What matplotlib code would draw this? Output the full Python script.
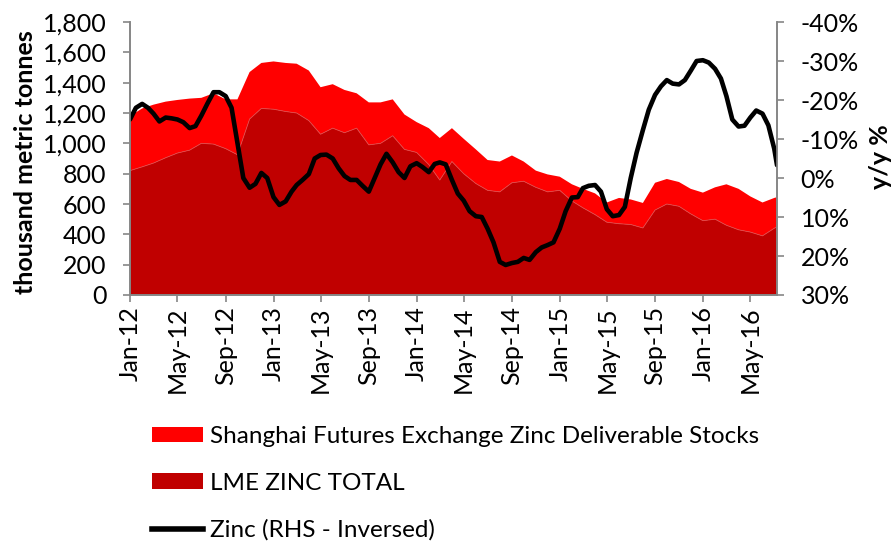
import matplotlib
matplotlib.use("Agg")
import matplotlib.pyplot as plt
from matplotlib.patches import Patch
from matplotlib.lines import Line2D
import pandas as pd

plt.rcParams['font.family'] = ['Lato', 'DejaVu Sans']

# Stocks (thousand metric tonnes), monthly + final observation
stock_dates = list(pd.date_range("2012-01-01", "2016-07-01", freq="MS")) + [pd.Timestamp("2016-07-08")]

lme_total = [820, 845, 870, 905, 936, 955, 1000, 995, 965, 925,
             1160, 1230, 1225, 1210, 1200, 1150, 1060, 1100, 1070, 1100,
             990, 1000, 1050, 960, 940, 860, 758, 880, 800, 735,
             690, 680, 740, 750, 710, 680, 690, 620, 575, 530,
             480, 470, 465, 442, 560, 600, 585, 535, 490, 500,
             460, 430, 415, 390, 440, 450]

total_stocks = [1180, 1230, 1255, 1275, 1286, 1295, 1300, 1330, 1290, 1290,
                1470, 1530, 1540, 1530, 1525, 1480, 1370, 1390, 1352, 1330,
                1270, 1270, 1290, 1190, 1140, 1100, 1035, 1100, 1030, 960,
                890, 880, 920, 880, 820, 795, 780, 730, 700, 670,
                610, 640, 630, 607, 740, 765, 745, 700, 675, 710,
                730, 700, 650, 610, 640, 645]

shfe_stocks = [t - l for t, l in zip(total_stocks, lme_total)]

# Zinc y/y % (semi-monthly + final observation)
zinc_dates = []
for d in pd.date_range("2012-01-01", "2016-07-01", freq="MS"):
    zinc_dates.append(d)
    if d < pd.Timestamp("2016-07-01"):
        zinc_dates.append(d + pd.Timedelta(days=15))
zinc_dates.append(pd.Timestamp("2016-07-08"))

zinc_yoy = [-15, -18, -19, -18, -16.5, -14.5, -15.5, -15.3, -15, -14.3,
            -12.8, -13.3, -16, -19, -22, -22, -21, -18, -9, 0,
            2.5, 1.5, -1.3, 0, 4.9, 6.9, 6, 3.5, 1.8, 0.5,
            -1, -5, -5.9, -6, -5, -2.5, -0.5, 0.5, 0.5, 2,
            3.5, 0, -3.5, -6.2, -4, -1.5, 0, -3, -3.8, -2.8,
            -1.5, -3.6, -4, -3.5, 0.5, 4, 5.8, 8.5, 9.8, 10,
            13, 16.5, 21.5, 22.3, 21.8, 21.5, 20.5, 21, 19, 17.8,
            17.2, 16.5, 13, 8.5, 5, 4.9, 2.6, 2, 1.8, 3.5,
            8, 9.8, 9.5, 7.4, 0, -6.5, -12.3, -17.5, -21.3, -23.5,
            -25.1, -24.2, -24, -25.1, -27.5, -30, -30.2, -29.6, -28, -25.5,
            -21, -15, -13.2, -13.4, -15.5, -17.3, -16.5, -13.5, -7.5, -3.3]

left_ticks = list(range(0, 1801, 200))
right_ticks = [-0.40, -0.30, -0.20, -0.10, 0.0, 0.10, 0.20, 0.30]
tick_dates = pd.date_range("2012-01-01", "2016-05-01", freq="4MS")

W, H = 894, 542
fig = plt.figure(figsize=(W / 100, H / 100), dpi=100)
ax = fig.add_axes([130 / W, (H - 295) / H, (777 - 130) / W, (295 - 22) / H])

dark_red = '#C00000'
red = '#FF0000'
ax.stackplot(stock_dates, lme_total, shfe_stocks, colors=[dark_red, red],
             linewidth=0)
ax.plot(stock_dates, lme_total, color='#E04848', lw=0.6)

ax.set_ylim(0, 1800)
ax.set_yticks(left_ticks)
ax.set_yticklabels([f"{v:,}" for v in left_ticks])
ax.set_xlim(stock_dates[0], stock_dates[-1])
ax.set_xticks(tick_dates)
ax.set_xticklabels([d.strftime("%b-%y") for d in tick_dates], rotation=90)

ax2 = ax.twinx()
ax2.plot(zinc_dates, [v / 100 for v in zinc_yoy], color='black', lw=3.3,
         solid_capstyle='round', solid_joinstyle='round')
ax2.set_ylim(0.30, -0.40)
ax2.set_yticks(right_ticks)
ax2.set_yticklabels([f"{round(v*100):d}%" for v in right_ticks])

gray = '#868686'
fs = 18
for a in (ax, ax2):
    a.spines['top'].set_visible(False)
    for s in ('left', 'right', 'bottom'):
        a.spines[s].set_color(gray)
        a.spines[s].set_linewidth(1.2)
    a.tick_params(axis='both', colors=gray, labelcolor='black',
                  labelsize=fs, length=5, width=1.2, direction='out')
ax.tick_params(axis='y', pad=12)
ax2.tick_params(axis='y', pad=12)
ax.tick_params(axis='x', pad=3)

ax.set_ylabel("thousand metric tonnes", fontsize=18, fontweight='bold')
ax.yaxis.set_label_coords((37 - 130) / 647, (295 - 162) / 273)
ax2.set_ylabel("y/y %", fontsize=18, fontweight='bold', rotation=90)
ax2.yaxis.set_label_coords((869 - 130) / 647, (295 - 157) / 273)

handles = [Patch(facecolor=red, edgecolor='none'),
           Patch(facecolor=dark_red, edgecolor='none'),
           Line2D([0], [0], color='black', lw=4)]
labels = ["Shanghai Futures Exchange Zinc Deliverable Stocks",
          "LME ZINC TOTAL",
          "Zinc (RHS - Inversed)"]
fig.legend(handles, labels, loc='upper left',
           bbox_to_anchor=(152 / W, 1 - 426 / H), frameon=False,
           fontsize=17.5, handlelength=2.1, handleheight=0.6,
           handletextpad=0.3, labelspacing=1.06, borderpad=0,
           borderaxespad=0)

fig.savefig("out.png", dpi=100)
